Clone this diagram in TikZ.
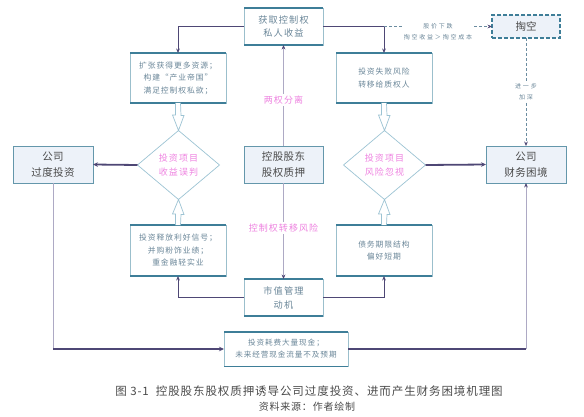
\documentclass[tikz,border=0pt]{standalone}
\usepackage{fontspec}
\setmainfont{Noto Sans CJK SC}
\newfontfamily\cjkA[LetterSpace=12]{Noto Sans CJK SC}
\newfontfamily\cjkB[LetterSpace=12]{Noto Sans CJK SC}
\newfontfamily\cjkC[LetterSpace=4]{Noto Sans CJK SC}
\newfontfamily\cjkD[LetterSpace=30]{Noto Sans CJK SC}
\newfontfamily\cjkE[LetterSpace=8]{Noto Sans CJK SC}
\usetikzlibrary{shapes.geometric,arrows.meta,calc}
\definecolor{teal}{HTML}{3E7E98}
\definecolor{sidec}{HTML}{9BBFCC}
\definecolor{mfill}{HTML}{EDF2F9}
\definecolor{mbord}{HTML}{6497AB}
\definecolor{dark}{HTML}{4E4775}
\definecolor{lightl}{HTML}{ADA9C4}
\definecolor{pinkt}{HTML}{EE82E0}
\definecolor{bluet}{HTML}{6B8799}
\definecolor{darkt}{HTML}{4A4A4A}
\definecolor{dmd}{HTML}{9CC3D3}
\definecolor{dsh}{HTML}{6B8CA0}
\begin{document}
\begin{tikzpicture}[x=1pt,y=-1pt,
  wbox/.style={draw=sidec, line width=0.7pt, fill=white, inner sep=0pt, outer sep=0pt, align=center, text=bluet, font={\cjkA\fontsize{7.8}{12.5}\selectfont}},
  tbl/.style={draw=teal, line width=1.6pt},
  mbox/.style={draw=mbord, line width=0.9pt, fill=mfill, inner sep=0pt, outer sep=0pt, align=center, text=darkt, font={\cjkC\fontsize{10.5}{15.5}\selectfont}, minimum width=80pt, minimum height=37pt},
  dia/.style={diamond, draw=dmd, line width=0.7pt, inner sep=0pt, outer sep=0pt, minimum width=82pt, minimum height=69pt, align=center, text=pinkt, font={\cjkB\fontsize{9}{14}\selectfont}},
  hol/.style={draw=dmd, line width=0.7pt, fill=white},
  thk/.style={draw=dark, line width=1.8pt, -{Stealth[length=5pt,width=4.5pt]}},
  thn/.style={draw=dark, line width=0.8pt, -{Stealth[length=4.5pt,width=3.8pt]}},
  lgt/.style={draw=lightl, line width=0.8pt},
  lgta/.style={draw=lightl, line width=0.8pt, -{Stealth[length=4.5pt,width=3.8pt,color=dark]}},
  dsl/.style={draw=dsh, line width=0.8pt, dash pattern=on 3pt off 2pt},
  lbl/.style={fill=white, inner sep=1.5pt, text=pinkt, font={\cjkB\fontsize{9}{12}\selectfont}},
  tiny/.style={fill=white, inner sep=1pt, align=center, text=bluet, font={\cjkD\fontsize{6}{11}\selectfont}}
]
\useasboundingbox (0,0) rectangle (584,417);

% nodes
\node[wbox, minimum width=79pt, minimum height=37pt, font={\cjkB\fontsize{9.2}{12.5}\selectfont}] (top) at (283.5,26.5) {获取控制权\\私人收益};
\node[wbox, minimum width=96pt, minimum height=50pt] (kz) at (178,78) {扩张获得更多资源；\\构建“产业帝国”\\满足控制权私欲；};
\node[wbox, minimum width=96pt, minimum height=50pt] (sb) at (384,78) {投资失败风险\\转移给质权人};
\node[draw=teal, line width=1.3pt, dash pattern=on 4pt off 2pt, fill=mfill, minimum width=68pt, minimum height=23pt, inner sep=0pt, outer sep=0pt, text=darkt, font={\fontsize{10.5}{12}\selectfont}] (tk) at (526,26.5) {掏空};

\node[mbox] (gq) at (53,164.5) {公司\\过度投资};
\node[mbox, minimum width=79pt] (kg) at (283.5,164.5) {控股股东\\股权质押};
\node[mbox] (cw) at (526,164.5) {公司\\财务困境};

\node[dia] (d1) at (178.5,165) {投资项目\\收益误判};
\node[dia] (d2) at (384.5,165) {投资项目\\风险忽视};

\node[wbox, minimum width=96pt, minimum height=51pt] (sf) at (178,250.5) {投资释放利好信号；\\并购粉饰业绩；\\重金融轻实业};
\node[wbox, minimum width=96pt, minimum height=51pt] (zw) at (384,250.5) {债务期限结构\\偏好短期};
\node[wbox, minimum width=79pt, minimum height=37pt, font={\cjkB\fontsize{9.2}{14}\selectfont}] (sz) at (283.5,297.5) {市值管理\\动机};
\node[wbox, minimum width=124pt, minimum height=34pt, font={\cjkA\fontsize{7.6}{12}\selectfont}] (bt) at (286,349) {投资耗费大量现金；\\未来经营现金流量不及预期};

\foreach \n in {top,kz,sb,sf,zw,sz,bt} {
  \draw[tbl] (\n.north west) -- (\n.north east);
}
\foreach \n in {top,kz,sb,sf,zw,sz} {
  \draw[tbl] (\n.south west) -- (\n.south east);
}
\draw[draw=teal, line width=1pt] (bt.south west) -- (bt.south east);

% hollow arrows
\draw[hol] ($(kz.south)+(-2.5,0)$) -- ++(0,12) -- ++(-3,0) -- (d1.north) -- ++(5.5,-15) -- ++(-3,0) -- ($(kz.south)+(2.5,0)$);
\draw[hol] ($(sf.north)+(-2.5,0)$) -- ++(0,-11) -- ++(-3,0) -- (d1.south) -- ++(5.5,15) -- ++(-3,0) -- ($(sf.north)+(2.5,0)$);
\draw[hol] ($(sb.south)+(-2.5,0)$) -- ++(0,12) -- ++(-3,0) -- (d2.north) -- ++(5.5,-15) -- ++(-3,0) -- ($(sb.south)+(2.5,0)$);
\draw[hol] ($(zw.north)+(-2.5,0)$) -- ++(0,-11) -- ++(-3,0) -- (d2.south) -- ++(5.5,15) -- ++(-3,0) -- ($(zw.north)+(2.5,0)$);

% connectors
\draw[thn] (top.west) -| (kz.north);
\draw[thn] (top.east) -| (sb.north);
\coordinate (tc) at (top.east -| sb.north);
\draw[dsl, -{Stealth[length=4.5pt,width=3.8pt,color=dark]}] (tc) -- node[midway, yshift=-5.5pt, tiny] {股价下跌\\掏空收益＞掏空成本} (tk.west);
\draw[dsl, -{Stealth[length=4.5pt,width=3.8pt,color=dark]}] (tk.south) -- node[midway, tiny] {进一步\\加深} (cw.north);

\draw[lgta] (kg.north) -- node[pos=.455, lbl] {两权分离} (top.south);
\draw[lgta] (kg.south) -- node[pos=.47, lbl] {控制权转移风险} (sz.north);

\draw[thn] (sz.west) -| (sf.south);
\draw[thn] (sz.east) -| (zw.south);

\draw[thk] (d1.west) -- (gq.east);
\draw[thk] (d2.east) -- (cw.west);

\coordinate (c1) at (gq.south |- bt.west);
\draw[lgt] (gq.south) -- (c1);
\draw[thk] (c1) -- (bt.west);
\coordinate (c2) at (cw.south |- bt.east);
\draw[draw=dark, line width=1.8pt] (bt.east) -- (c2);
\draw[lgta] (c2) -- (cw.south);

% caption
\node[text=darkt, font={\cjkE\fontsize{11.5}{13}\selectfont}] (cap) at (309,391) {图 3-1\ \ 控股股东股权质押诱导公司过度投资、进而产生财务困境机理图};
\node[text=darkt, font={\cjkE\fontsize{10}{12}\selectfont}] (src) at (307,407) {资料来源：作者绘制};
\end{tikzpicture}
\end{document}
